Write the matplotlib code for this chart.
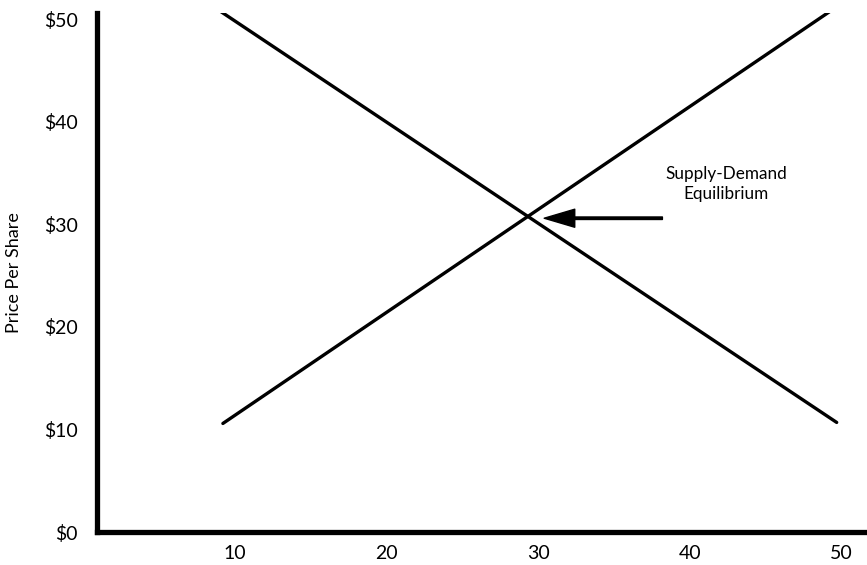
import matplotlib.pyplot as plt

# values
supply_x = [9.2, 49.4]
supply_y = [10.6, 50.9]
demand_x = [9.0, 49.7]
demand_y = [50.8, 10.7]
y_ticks = [0, 10, 20, 30, 40, 50]
y_labels = ['$0', '$10', '$20', '$30', '$40', '$50']
x_ticks = [10, 20, 30, 40, 50]
equilibrium = (29.5, 30.6)

plt.rcParams['font.family'] = ['Lato', 'DejaVu Sans']

fig = plt.figure(figsize=(8.67, 5.65), dpi=100)
ax = fig.add_axes([0.112, 0.058, 0.888, 0.919])

ax.plot(supply_x, supply_y, color='black', lw=2.4, solid_capstyle='round')
ax.plot(demand_x, demand_y, color='black', lw=2.4, solid_capstyle='round')

ax.annotate('', xy=(equilibrium[0] + 0.9, equilibrium[1]),
            xytext=(38.2, equilibrium[1]),
            arrowprops=dict(facecolor='black', edgecolor='black', width=1.8,
                            headwidth=13, headlength=22, shrink=0))
ax.text(42.4, 33.9, 'Supply-Demand\nEquilibrium', ha='center', va='center',
        fontsize=12.3, linespacing=1.3)

ax.set_xlim(0.9, 51.7)
ax.set_ylim(0, 50.6)
ax.set_xticks(x_ticks)
ax.set_yticks(y_ticks)
ax.set_yticklabels(y_labels)
ax.tick_params(length=0, labelsize=14)
ax.tick_params(axis='y', pad=14)
ax.tick_params(axis='x', pad=9)
for s in ['top', 'right']:
    ax.spines[s].set_visible(False)
for s in ['left', 'bottom']:
    ax.spines[s].set_linewidth(3.8)
ax.set_ylabel('Price Per Share', fontsize=13)
ax.yaxis.set_label_coords(-0.098, 0.5)

fig.savefig('out.png', dpi=100)
